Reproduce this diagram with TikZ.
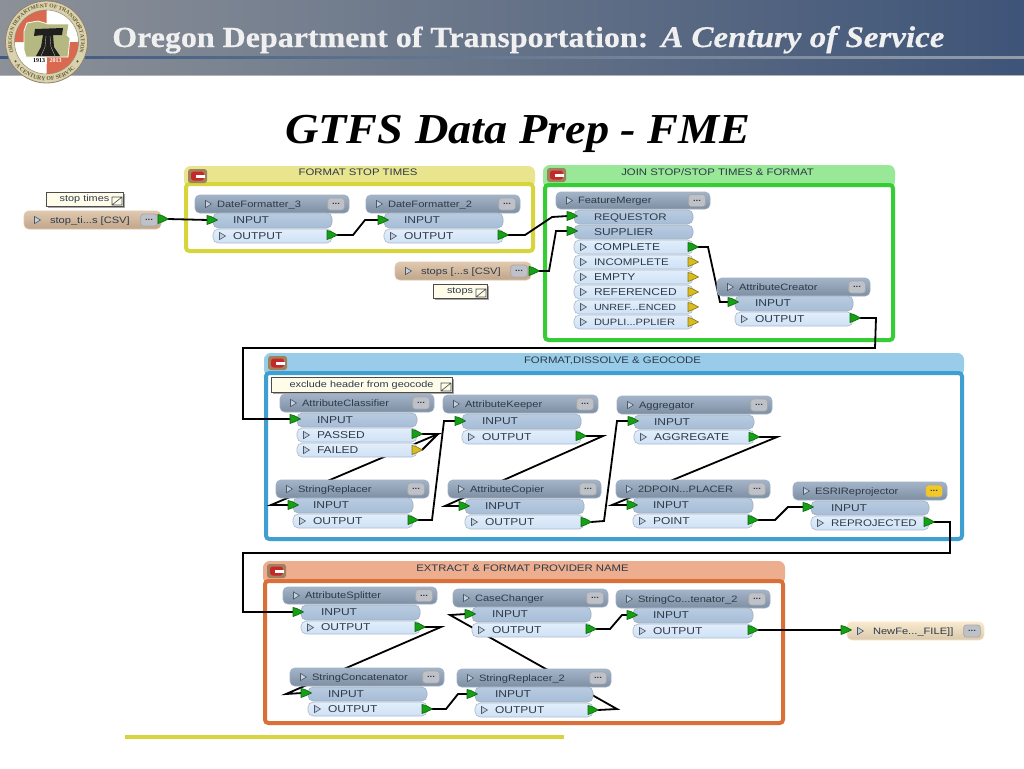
\documentclass[tikz,border=0pt]{standalone}
\usepackage{fontspec}
\setmainfont{Liberation Serif}
\newfontfamily\fme[FakeStretch=1.2]{Liberation Sans}
\newfontfamily\hdrfont[FakeStretch=1.1,BoldFeatures={FakeStretch=1.1,FakeBold=0.5},BoldItalicFeatures={FakeStretch=1.1,FakeBold=0.5}]{Liberation Serif}
\newfontfamily\ttlfont[FakeStretch=1.085]{Liberation Serif}
\usetikzlibrary{decorations.text}
\pgfdeclarelayer{bg}\pgfdeclarelayer{conn}\pgfsetlayers{bg,conn,main}
\definecolor{ytop}{HTML}{E9E58F}\definecolor{ybd}{HTML}{D6D53C}
\definecolor{gtop}{HTML}{98E898}\definecolor{gbd}{HTML}{35CC35}
\definecolor{btop}{HTML}{98CCE8}\definecolor{bbd}{HTML}{3F9FD0}
\definecolor{otop}{HTML}{ECAE8E}\definecolor{obd}{HTML}{DB6F38}
\definecolor{ink}{HTML}{2E3A48}
\definecolor{hdblue}{HTML}{8EA2BA}\definecolor{intop}{HTML}{B8CBE0}\definecolor{inbot}{HTML}{A6BDD7}\definecolor{inbd}{HTML}{A3B0C0}
\definecolor{outtop}{HTML}{E2EEFB}\definecolor{outbot}{HTML}{CEE1F5}\definecolor{outbd}{HTML}{B0BCCB}\definecolor{btngray}{HTML}{BEC2C8}
\definecolor{pgreen}{HTML}{15A015}\definecolor{glyphfill}{HTML}{C5D0DC}\definecolor{glyphbd}{HTML}{4A5868}\definecolor{notefill}{HTML}{FFFDEA}
\definecolor{pyellow}{HTML}{D8BC20}\definecolor{rdtan}{HTML}{D9BC9C}\definecolor{wrcream}{HTML}{F7E4C2}\definecolor{btnyel}{HTML}{F2C827}
\definecolor{magred}{HTML}{C62828}
\definecolor{bandL}{HTML}{8C9198}\definecolor{bandM}{HTML}{6C7A8C}\definecolor{bandR}{HTML}{3E5478}
\definecolor{ruleL}{HTML}{3E5A80}\definecolor{ruleR}{HTML}{939BA8}
\definecolor{logosand}{HTML}{D8D2AE}\definecolor{logored}{HTML}{D96A50}\definecolor{logoolive}{HTML}{B5B880}\definecolor{logoink}{HTML}{6A5A30}
\tikzset{
 fmetext/.style={font=\fme\fontsize{7.5}{9}\selectfont,text=ink,text height=5.5pt,text depth=1pt,align=left},
 hdrbox/.style={fmetext,font=\fme\fontsize{6.95}{8}\selectfont,rounded corners=3.5pt,top color=#1!80!white,bottom color=#1!88!black,draw=#1!85!white,line width=.4pt},
 hdrbox/.default={hdblue},
 inbox/.style={fmetext,rounded corners=4pt,top color=intop,bottom color=inbot,draw=inbd,line width=.5pt},
 outbox/.style={fmetext,rounded corners=4pt,top color=outtop,bottom color=outbot,draw=outbd,line width=.5pt},
 btnbox/.style={rounded corners=2pt,fill=#1,draw=gray!70,line width=.5pt,text=ink,font=\fme\bfseries\fontsize{6}{6}\selectfont,inner sep=0pt,minimum width=12.5pt,minimum height=9pt},
 btnbox/.default={btngray},
 wire/.style={draw=black,line width=1.35pt,line join=miter},
 portg/.style={fill=#1,draw=#1!65!black,line width=.5pt,line join=round},
 portg/.default={pgreen},
 glyph/.style={fill=glyphfill,draw=glyphbd,line width=.45pt},
 notebox/.style={draw=black!70,fill=notefill,line width=.6pt,font=\fme\fontsize{6.8}{8}\selectfont,text=ink,text height=5pt,text depth=1pt,inner sep=0pt},
 titleband/.style={font=\fme\fontsize{7.1}{8}\selectfont,text=ink,inner sep=0pt,text height=5pt,text depth=1pt},
}
\newcommand\mknamed[8][20]{%
 \pgfmathsetmacro\bw{(#6-#4)*0.75}\pgfmathsetmacro\bh{(#7-#5)*0.75}\pgfmathsetmacro\tw{(#6-#4-2*#1)*0.75}\pgfmathsetmacro\px{#1*0.75}%
 \node[#2,minimum width=\bw pt,minimum height=\bh pt,inner ysep=0pt,inner xsep=\px pt,text width=\tw pt] (#3) at ({(#4+#6)/2},{(#5+#7)/2}) {#8};}
\newcommand\tri[2]{\draw[glyph] (#1-2.5,#2-3.6)--(#1+3.5,#2)--(#1-2.5,#2+3.6)--cycle;}
\newcommand\xfhead[8]{%
 \mknamed[22]{#7}{#1}{#2}{#3}{#4}{#5}{#6}%
 \node[#8] (#1-btn) at (#4-13,{(#3+#5)/2}) {...};%
 \pgfmathsetmacro\ty{(#3+#5)/2}\tri{#2+13}{\ty}}
\newcommand\rdhead[8]{%
 \mknamed[26]{#7}{#1}{#2}{#3}{#4}{#5}{#6}%
 \node[#8] (#1-btn) at (#4-12,{(#3+#5)/2}) {...};%
 \pgfmathsetmacro\ty{(#3+#5)/2}\tri{#2+13}{\ty}}
\newcommand\xf[6]{\xfhead{#1}{#2}{#3}{#4}{#5}{#6}{hdrbox}{btnbox}}
\newcommand\inrow[6]{\mknamed[20]{inbox}{#1}{#2}{#3}{#4}{#5}{#6}}
\newcommand\outrow[6]{\mknamed[20]{outbox}{#1}{#2}{#3}{#4}{#5}{#6}\pgfmathsetmacro\ty{(#3+#5)/2}\tri{#2+9}{\ty}}
\newcommand\flagshape[3]{\filldraw[portg=#3] (#1,#2-4.5)--(#1+4,#2-3.5)--(#1+10.5,#2)--(#1+4,#2+3)--(#1,#2+4.5)--cycle;}
\newcommand\pin[3]{\flagshape{#2}{#3}{pgreen}\coordinate (#1) at (#2+1,#3);}
\newcommand\pout[4][pgreen]{\flagshape{#3}{#4}{#1}\coordinate (#2) at (#3+10,#4);}
\newcommand\note[6]{%
 \pgfmathsetmacro\bw{(#4-#2)*0.75}\pgfmathsetmacro\bh{(#5-#3)*0.75}%
 \fill[black!35] (#2+2,#3+2) rectangle (#4+2,#5+2);
 \node[notebox,minimum width=\bw pt,minimum height=\bh pt] (#1) at ({(#2+#4)/2},{(#3+#5)/2}) {#6\hspace{9pt}};
 \draw[black!70,line width=.5pt] (#4-11,#5-1) rectangle (#4-1,#5-9) (#4-11,#5-1)--(#4-1,#5-9);}
\newcommand\bookmark[9]{%
 \fill[#7,rounded corners=5pt] (#2,#6+3)--(#2,#3)--(#4,#3)--(#4,#6+3)--cycle;
 \filldraw[draw=#8,fill=white,line width=3pt,rounded corners=2.5pt] (#2+2,#6)rectangle(#4-2,#5-2);
 \node[titleband] (#1) at ({(#2+#4)/2-1.5},{(#3+#6)/2-2}) {#9};
 \pgfmathsetmacro\iy{#3+3}\fill[brown!55!gray,rounded corners=2pt] (#2+4,\iy) rectangle (#2+23,\iy+14);
 \fill[magred,rounded corners=2pt] (#2+7,\iy+2.5) rectangle (#2+20,\iy+11.5);
 \fill[white] (#2+12,\iy+5.5) rectangle (#2+21,\iy+8.5);}
\begin{document}
\begin{tikzpicture}[x=0.75pt,y=-0.75pt]
\useasboundingbox (0,0) rectangle (1024,768);
\begin{pgfonlayer}{bg}
\fill[white] (0,0) rectangle (1024,768);
\shade[left color=bandL,middle color=bandM,right color=bandR] (0,0) rectangle (1024,75);
\shade[left color=ruleL,right color=ruleR] (0,56.5) rectangle (1024,58.5);
\fill[gray!60] (0,75) rectangle (1024,76);
\fill[ybd] (125,734.5) rectangle (564,738.5);
\bookmark{bkY}{184}{166}{535}{253}{184}{ytop}{ybd}{FORMAT STOP TIMES}
\bookmark{bkG}{543}{165}{895}{342}{185}{gtop}{gbd}{JOIN STOP/STOP TIMES \& FORMAT}
\bookmark{bkB}{264}{353}{964}{541}{373}{btop}{bbd}{FORMAT,DISSOLVE \& GEOCODE}
\bookmark{bkO}{263}{561}{785}{725}{581}{otop}{obd}{EXTRACT \& FORMAT PROVIDER NAME}
\end{pgfonlayer}
% logo
\filldraw[fill=logosand,draw=gray!70!brown,line width=.6pt] (46.5,42) circle[radius=41];
\fill[white] (46.5,42) circle[radius=32];
\fill[logored] (46.5,42)--(14.5,42) arc[start angle=180,delta angle=90,radius=32]--cycle;
\fill[logored] (46.5,42)--(78.5,42) arc[start angle=0,delta angle=90,radius=32]--cycle;
\draw[logoink!70,line width=.4pt] (46.5,42) circle[radius=32];
\filldraw[fill=logoolive,draw=white,line width=.6pt] (27,23)--(38,21)--(48,24)--(69,24)--(67,35)--(70,38)--(68,57)--(26,57)--(24,50)--(24,31)--cycle;
\fill[black!88] (35,29)--(63,28)--(62,35)--(53,35)--(54,47)--(60,56)--(36,56)--(41,47)--(43,35)--(34,36)--cycle;
\draw[logoolive,line width=.3pt] (46,36)--(45,47)--(41,56) (50,36)--(51,47)--(55,56);
\fill[white] (31,57.5) rectangle (47,63.5);
\fill[logored] (47,57.5) rectangle (64,63.5);
\node[inner sep=0pt,font=\fontsize{4.5}{5}\selectfont\bfseries,text=black] (logoY) at (39,60.5) {1913};
\node[inner sep=0pt,font=\fontsize{4.5}{5}\selectfont\bfseries,text=white] (logoZ) at (55.5,60.5) {2013};
\fill[logoink] (46.5,42)++(148:36.5) circle[radius=1.2];
\fill[logoink] (46.5,42)++(32:36.5) circle[radius=1.2];
\path[decorate,decoration={text along path,text align=center,text={|\fontsize{4.2}{5}\selectfont\bfseries\color{logoink}|OREGON DEPARTMENT OF TRANSPORTATION}}] (46.5,42)++(158:34.5) arc[start angle=158,end angle=382,radius=34.5];
\path[decorate,decoration={text along path,text align=center,text={|\fontsize{4.4}{5}\selectfont\bfseries\color{logoink}|A CENTURY OF SERVICE}}] (46.5,42)++(140:38.8) arc[start angle=140,end angle=40,radius=38.8];
% header titles
\node[anchor=base west,inner sep=0pt,text=white!94!black,font=\hdrfont\bfseries\fontsize{21.8}{24}\selectfont] (hdrA) at (112,47) {Oregon Department of Transportation:};
\node[anchor=base west,inner sep=0pt,text=white!94!black,font=\hdrfont\bfseries\itshape\fontsize{22.5}{24}\selectfont] (hdrB) at (661,47) {A Century of Service};
\node[anchor=base west,inner sep=0pt,text=black,font=\ttlfont\bfseries\itshape\fontsize{32}{36}\selectfont] (ttl) at (285,143) {GTFS Data Prep - FME};
% readers / writer
\note{nSt}{46}{192}{123}{206}{stop times}
\note{nStops}{433}{284}{487}{298}{stops}
\note{nEx}{271}{377}{452}{392}{exclude header from geocode}
\rdhead{rdA}{24}{211}{161}{229}{stop\_ti...s [CSV]}{hdrbox=rdtan}{btnbox}
\pout{rdAo}{158}{219}
\rdhead{rdB}{395}{262}{531}{280}{stops [...s [CSV]}{hdrbox=rdtan}{btnbox}
\pout{rdBo}{529}{271}
\rdhead{wrA}{847}{622}{984}{640}{NewFe...\_FILE]]}{hdrbox=wrcream}{btnbox}
\pin{wrAi}{841}{630}
% FORMAT STOP TIMES
\xf{df3}{195}{195}{349}{213}{DateFormatter\_3}
\inrow{df3i}{213}{213}{332}{228}{INPUT}\outrow{df3o}{213}{229}{332}{243}{OUTPUT}
\pin{df3ip}{207}{220}\pout{df3op}{327}{235}
\xf{df2}{366}{195}{520}{213}{DateFormatter\_2}
\inrow{df2i}{384}{213}{503}{228}{INPUT}\outrow{df2o}{384}{229}{503}{243}{OUTPUT}
\pin{df2ip}{378}{220}\pout{df2op}{498}{235}
% JOIN
\xf{fm}{556}{192}{710}{209}{FeatureMerger}
\inrow{fmR}{574}{210}{693}{224}{{\fontsize{7.2}{9}\selectfont REQUESTOR}}
\inrow{fmS}{574}{225}{693}{239}{SUPPLIER}
\outrow{fmC}{574}{240}{693}{254}{COMPLETE}
\outrow{fmI}{574}{255}{693}{269}{{\fontsize{7.2}{9}\selectfont INCOMPLETE}}
\outrow{fmE}{574}{270}{693}{284}{EMPTY}
\outrow{fmF}{574}{285}{693}{299}{REFERENCED}
\outrow{fmU}{574}{300}{693}{314}{{\fontsize{6.7}{8}\selectfont UNREF...ENCED}}
\outrow{fmD}{574}{315}{693}{329}{{\fontsize{6.9}{8}\selectfont DUPLI...PPLIER}}
\pin{fmRp}{567}{216}\pin{fmSp}{567}{231}
\pout{fmCp}{688}{247}\pout[pyellow]{fmIp}{688}{262}\pout[pyellow]{fmEp}{688}{277}\pout[pyellow]{fmFp}{688}{292}\pout[pyellow]{fmUp}{688}{307}\pout[pyellow]{fmDp}{688}{322}
\xf{ac}{717}{278}{870}{296}{AttributeCreator}
\inrow{aci}{735}{296}{853}{311}{INPUT}\outrow{aco}{735}{312}{853}{326}{OUTPUT}
\pin{acip}{728}{302}\pout{acop}{850}{318}
% FORMAT,DISSOLVE
\xf{cl}{280}{394}{434}{412}{AttributeClassifier}
\inrow{cli}{297}{413}{417}{427}{INPUT}\outrow{clP}{297}{428}{417}{442}{PASSED}\outrow{clF}{297}{443}{417}{457}{FAILED}
\pin{clip}{290}{419}\pout{clPp}{412}{434}\pout[pyellow]{clFp}{412}{450}
\xf{ak}{443}{395}{598}{413}{AttributeKeeper}
\inrow{aki}{462}{414}{581}{429}{INPUT}\outrow{ako}{462}{430}{581}{444}{OUTPUT}
\pin{akip}{455}{421}\pout{akop}{576}{436}
\xf{ag}{617}{396}{772}{414}{Aggregator}
\inrow{agi}{634}{415}{754}{429}{INPUT}\outrow{ago}{634}{430}{754}{444}{AGGREGATE}
\pin{agip}{628}{421}\pout{agop}{749}{437}
\xf{sr}{276}{480}{429}{498}{StringReplacer}
\inrow{sri}{293}{498}{413}{513}{INPUT}\outrow{sro}{293}{514}{413}{528}{OUTPUT}
\pin{srip}{288}{505}\pout{srop}{408}{520}
\xf{cp}{448}{480}{601}{498}{AttributeCopier}
\inrow{cpi}{465}{499}{584}{514}{INPUT}\outrow{cpo}{465}{515}{584}{529}{OUTPUT}
\pin{cpip}{459}{506}\pout{cpop}{581}{522}
\xf{pt}{616}{480}{770}{498}{2DPOIN...PLACER}
\inrow{pti}{633}{498}{753}{513}{INPUT}\outrow{pto}{633}{514}{753}{528}{POINT}
\pin{ptip}{627}{505}\pout{ptop}{748}{520}
\xfhead{es}{793}{482}{947}{500}{ESRIReprojector}{hdrbox}{btnbox=btnyel}
\inrow{esi}{811}{501}{929}{515}{INPUT}\outrow{eso}{811}{516}{929}{530}{{\fontsize{7.2}{9}\selectfont REPROJECTED}}
\pin{esip}{803}{507}\pout{esop}{924}{522}
% EXTRACT
\xf{sp}{283}{587}{437}{604}{AttributeSplitter}
\inrow{spi}{301}{605}{420}{620}{INPUT}\outrow{spo}{301}{621}{420}{634}{OUTPUT}
\pin{spip}{293}{612}\pout{spop}{415}{627}
\xf{cc}{453}{589}{608}{607}{CaseChanger}
\inrow{cci}{472}{607}{591}{622}{INPUT}\outrow{cco}{472}{623}{591}{637}{OUTPUT}
\pin{ccip}{465}{614}\pout{ccop}{586}{629}
\xf{s2}{616}{590}{770}{608}{StringCo...tenator\_2}
\inrow{s2i}{633}{608}{753}{623}{INPUT}\outrow{s2o}{633}{624}{753}{638}{OUTPUT}
\pin{s2ip}{627}{615}\pout{s2op}{748}{630}
\xf{sc}{290}{668}{444}{686}{StringConcatenator}
\inrow{sci}{308}{687}{427}{701}{INPUT}\outrow{sco}{308}{702}{427}{716}{OUTPUT}
\pin{scip}{301}{693}\pout{scop}{422}{709}
\xf{r2}{457}{669}{611}{687}{StringReplacer\_2}
\inrow{r2i}{475}{687}{593}{702}{INPUT}\outrow{r2o}{475}{703}{593}{717}{OUTPUT}
\pin{r2ip}{467}{694}\pout{r2op}{588}{710}
% connectors
\begin{pgfonlayer}{conn}
\draw[wire] (rdAo)--(df3ip);
\draw[wire] (df3op)--(353,235)--(365,220)--(df2ip);
\draw[wire] (df2op)--(525,235)--(552,217)--(fmRp);
\draw[wire] (rdBo)--(549,271)--(556,231)--(fmSp);
\draw[wire] (fmCp)--(708,247)--(720,302)--(acip);
\draw[wire] (acop)--(876,318)--(875,348)--(243,348)--(243,419)--(clip);
\draw[wire] (clPp)--(438,434)--(271,505)--(srip);
\draw[wire] (clFp)--(438,434);
\draw[wire] (srop)--(432,520)--(444,421)--(akip);
\draw[wire] (akop)--(603,436)--(445,506)--(cpip);
\draw[wire] (cpop)--(604,521)--(617,421)--(agip);
\draw[wire] (agop)--(777,437)--(612,505)--(ptip);
\draw[wire] (ptop)--(775,520)--(788,507)--(esip);
\draw[wire] (esop)--(950,522)--(950,553)--(243,553)--(243,612)--(spip);
\draw[wire] (spop)--(441,627)--(286,694)--(scip);
\draw[wire] (scop)--(446,709)--(458,694)--(r2ip);
\draw[wire] (r2op)--(617,709)--(450,615)--(ccip);
\draw[wire] (ccop)--(610,629)--(622,615)--(s2ip);
\draw[wire] (s2op)--(wrAi);
\end{pgfonlayer}
\end{tikzpicture}
\end{document}
